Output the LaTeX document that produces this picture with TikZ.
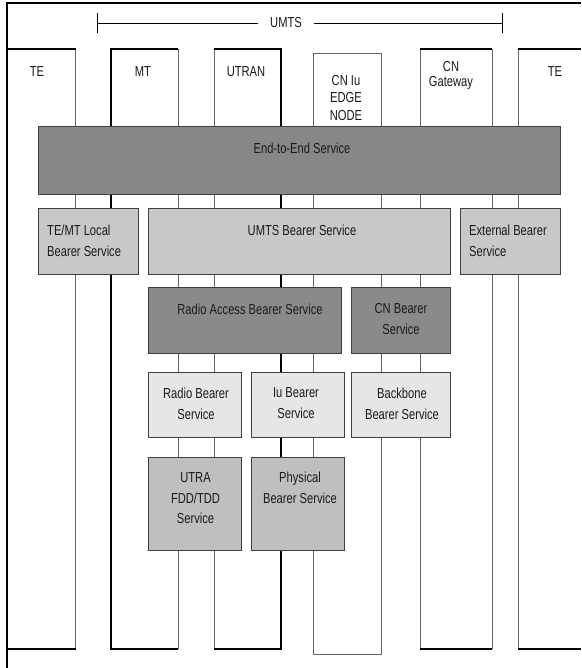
\documentclass[tikz,border=0pt]{standalone}
\usepackage{fontspec}
\setmainfont{Liberation Sans}[FakeStretch=0.77]
\definecolor{ceee}{HTML}{878787}
\definecolor{crow}{HTML}{C8C8C8}
\definecolor{crab}{HTML}{8A8A8A}
\definecolor{cfour}{HTML}{E6E6E6}
\definecolor{cfive}{HTML}{BFBFBF}
\definecolor{ctext}{HTML}{1A1A1A}
\begin{document}
\begin{tikzpicture}[x=1pt,y=-1pt,
  box/.style={draw=black!75, line width=0.9pt, inner sep=0pt, anchor=north west},
  lbl/.style={font=\fontsize{14.5}{21}\selectfont, text=ctext, inner sep=0pt, align=center},
  lbll/.style={lbl, align=left, anchor=west},
  colside/.style={draw=black!60, line width=0.7pt},
  colbold/.style={draw=black, line width=1.4pt},
  coledge/.style={draw=black, line width=2pt}]
\useasboundingbox (0,0) rectangle (581,668);
\fill[white] (0,0) rectangle (581,668);

% outer frame
\draw[line width=2.5pt] (7,668) -- (7,3) -- (581,3);

% UMTS bracket
\coordinate (umtsL) at (97,23);
\coordinate (umtsR) at (502,23);
\node[lbl, inner xsep=12pt] (umts) at (286,23) {UMTS};
\draw[line width=0.8pt] (umtsL) -- (umts);
\draw[line width=0.8pt] (umts) -- (umtsR);
\draw[line width=0.8pt] (97,13) -- (97,33);
\draw[line width=0.8pt] (502,13) -- (502,33);

% columns
% TE left
\draw[colside] (75.5,49) -- (75.5,649);
\draw[coledge] (7,49) -- (75.5,49);
\draw[coledge] (7,649) -- (75.5,649);
% MT
\draw[colbold] (111,49) -- (111,649);
\draw[colside] (178,49) -- (178,649);
\draw[coledge] (110.3,49) -- (178,49);
\draw[coledge] (110.3,649) -- (178,649);
% UTRAN
\draw[colside] (214,49) -- (214,649);
\draw[colbold] (281,49) -- (281,649);
\draw[coledge] (214,49) -- (281.7,49);
\draw[coledge] (214,649) -- (281.7,649);
% CN Iu EDGE NODE
\draw[colside] (313,53) rectangle (381,654);
% CN Gateway
\draw[colside] (420,49) -- (420,649);
\draw[colside] (492,49) -- (492,649);
\draw[coledge] (420,49) -- (492,49);
\draw[coledge] (420,649) -- (492,649);
% TE right
\draw[colside] (518,49) -- (518,649);
\draw[coledge] (518,49) -- (581,49);
\draw[coledge] (518,649) -- (581,649);

% column labels
\node[lbl] (te1) at (37,72) {TE};
\node[lbl] (mt) at (143,72) {MT};
\node[lbl] (utran) at (246,72) {UTRAN};
\node[lbl, font=\fontsize{14.5}{17.5}\selectfont] (cniu) at (346,98) {CN Iu\\EDGE\\NODE};
\node[lbl, font=\fontsize{14.5}{14.5}\selectfont] (cngw) at (451,75.5) {CN\\Gateway};
\node[lbl] (te2) at (555,72) {TE};

% service boxes
\node[box, fill=ceee, minimum width=522pt, minimum height=68pt] (e2e) at (38,126) {};
\node[box, fill=crow, minimum width=100pt, minimum height=66pt] (local) at (38,208) {};
\node[box, fill=crow, minimum width=302pt, minimum height=66pt] (umtsb) at (148,208) {};
\node[box, fill=crow, minimum width=100pt, minimum height=66pt] (ext) at (460,208) {};
\node[box, fill=crab, minimum width=193pt, minimum height=66pt] (rab) at (148,287) {};
\node[box, fill=crab, minimum width=99pt, minimum height=66pt] (cnb) at (351,287) {};
\node[box, fill=cfour, minimum width=93pt, minimum height=65pt] (rb) at (148,372) {};
\node[box, fill=cfour, minimum width=93pt, minimum height=65pt] (iub) at (251,372) {};
\node[box, fill=cfour, minimum width=99pt, minimum height=65pt] (bb) at (351,372) {};
\node[box, fill=cfive, minimum width=93pt, minimum height=93pt] (utra) at (148,457) {};
\node[box, fill=cfive, minimum width=93pt, minimum height=93pt] (phy) at (251,457) {};

% box labels
\node[lbl] (e2et) at (302,148) {End-to-End Service};
\node[lbll] (localt) at (47,240.5) {TE/MT Local\\Bearer Service};
\node[lbl] (umtsbt) at (302,230) {UMTS Bearer Service};
\node[lbll] (extt) at (469,240.5) {External Bearer\\Service};
\node[lbl] (rabt) at (250,309) {Radio Access Bearer Service};
\node[lbl] (cnbt) at (401,319.5) {CN Bearer\\Service};
\node[lbl] (rbt) at (196,403.5) {Radio Bearer\\Service};
\node[lbl] (iubt) at (296,403.5) {Iu Bearer\\Service};
\node[lbl] (bbt) at (402,403.5) {Backbone\\Bearer Service};
\node[lbl, font=\fontsize{14.5}{20.5}\selectfont] (utrat) at (195.5,498.5) {UTRA\\FDD/TDD\\Service};
\node[lbl, font=\fontsize{14.5}{20.5}\selectfont] (phyt) at (300,488) {Physical\\Bearer Service};
\end{tikzpicture}
\end{document}
